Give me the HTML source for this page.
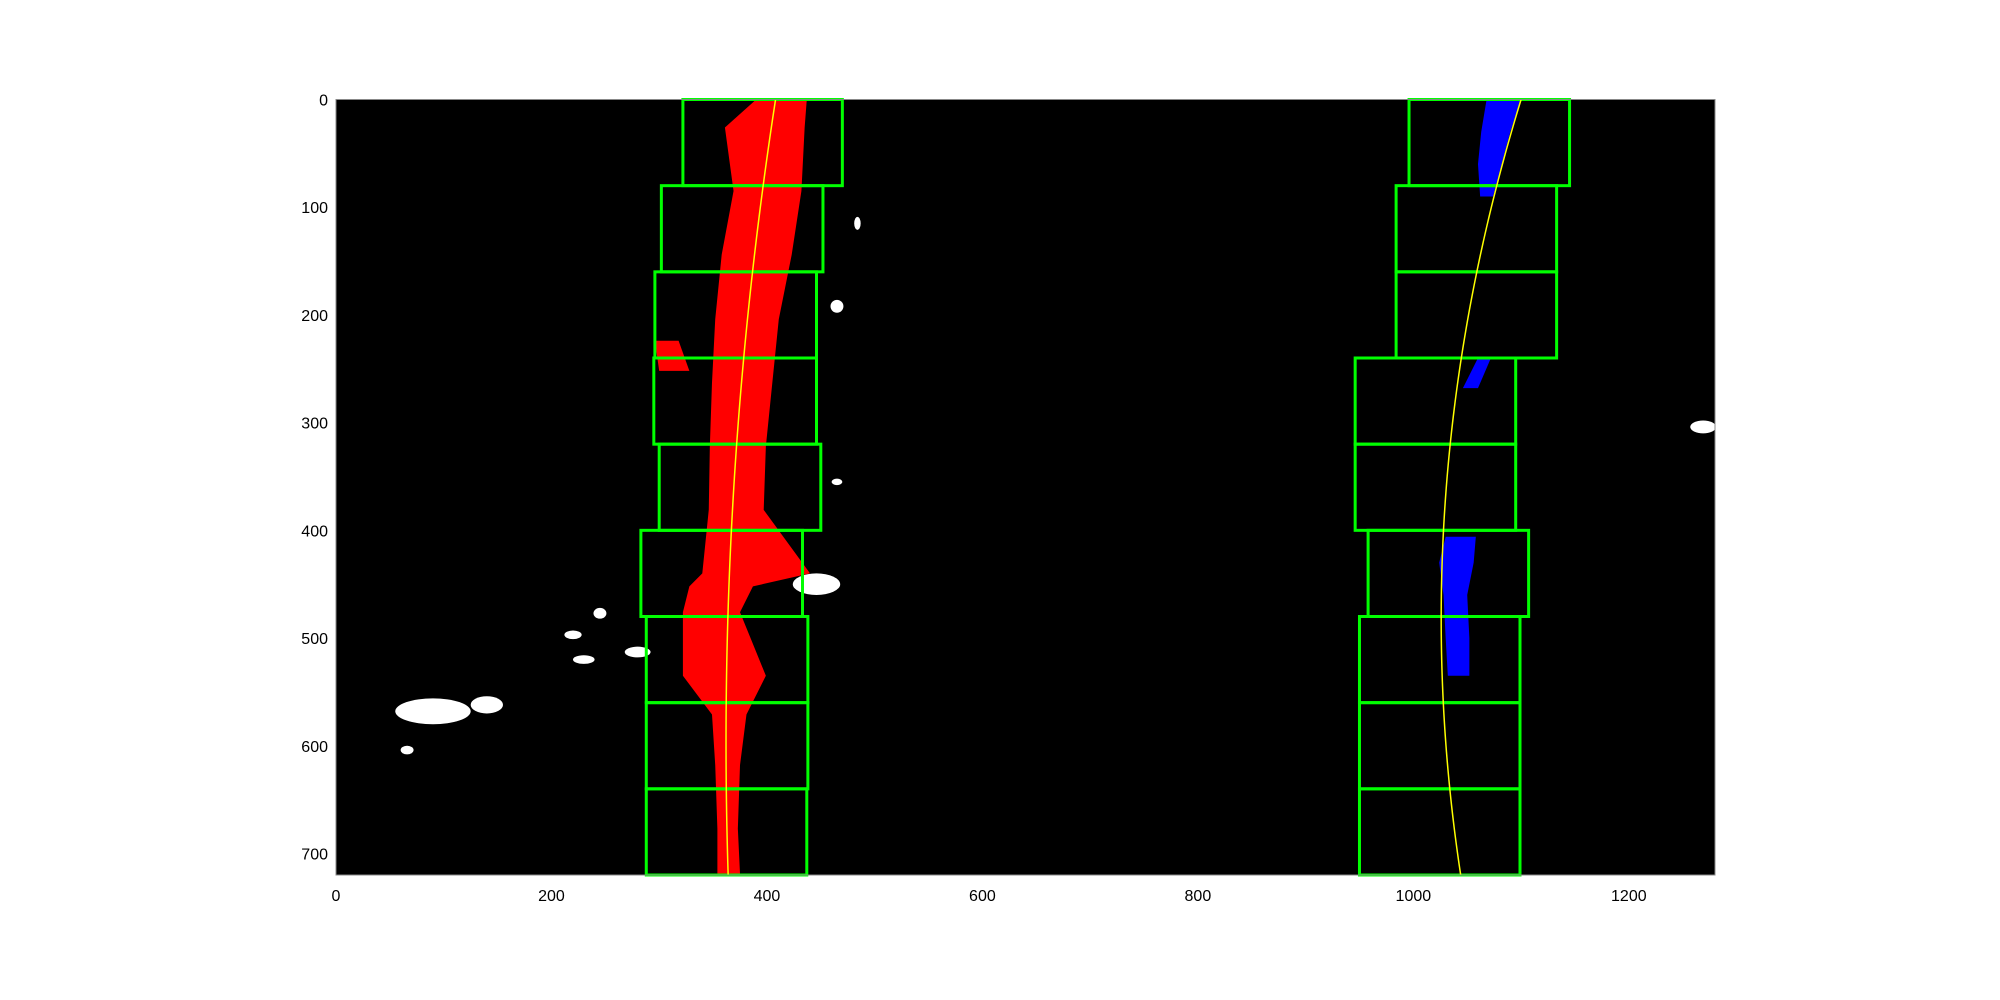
<!DOCTYPE html>
<html><head><meta charset="utf-8"><style>
html,body{margin:0;padding:0;background:#fff;width:2000px;height:1000px;overflow:hidden}
svg{display:block}
text{font-family:"Liberation Sans","DejaVu Sans",sans-serif;font-size:16px;fill:#000}
</style></head><body>
<svg id="chart" width="2000" height="1000" viewBox="0 0 2000 1000" xmlns="http://www.w3.org/2000/svg"></svg>
<script>
const xTicks=[0,200,400,600,800,1000,1200];
const yTicks=[0,100,200,300,400,500,600,700];
const winY=[0,80,160,240,320,400,480,560,640];
const leftWinLo=[322,302,296,295,300,283,288,288,288];
const leftWinHi=[470,452,446,446,450,433,438,438,437];
const rightWinLo=[996,984,984,946,946,958,950,950,950];
const rightWinHi=[1145,1133,1133,1095,1095,1107,1099,1099,1099];
const leftFit=[1.293e-4,-0.1542,408];
const rightFit=[3.194e-4,-0.3078,1100];
const redY=[0,26,85,144,204,263,322,381,440,452,476,535,571,618,677,719];
const redL=[390,361,369,358,352,349,347,346,340,328,322,322,349,352,354,354];
const redR=[437,435,432,423,411,405,399,397,440,387,375,399,381,375,373,375];
const blueY=[0,30,60,90];
const blueL=[1068,1063,1060,1062];
const blueR=[1100,1090,1082,1074];
const blue2Y=[406,430,460,500,535];
const blue2L=[1030,1024,1028,1030,1032];
const blue2R=[1058,1056,1050,1052,1052];
const whiteX=[90,140,230,280,446,465,66,484,245,220,465,1269];
const whiteY=[568,562,520,513,450,192,604,115,477,497,355,304];
const whiteRX=[35,15,10,12,22,6,6,3,6,8,5,12];
const whiteRY=[12,8,4,5,10,6,4,6,5,4,3,6];

const L=336,T=99.5,R=1715,B=875,W=1280,H=720;
const sx=v=>L+v*(R-L)/W, sy=v=>T+v*(B-T)/H;
const svg=document.getElementById('chart');
const NS='http://www.w3.org/2000/svg';
function mk(tag,at){const e=document.createElementNS(NS,tag);for(const k in at)e.setAttribute(k,at[k]);svg.appendChild(e);return e;}

let e=mk('rect',{x:L,y:T,width:R-L,height:B-T,fill:'#000'});



for(let i=0;i<whiteX.length;i++){
 e=mk('ellipse',{cx:sx(whiteX[i]),cy:sy(whiteY[i]),rx:whiteRX[i]*(R-L)/W,ry:whiteRY[i]*(B-T)/H,fill:'#fff'});
 
 
}
function blob(ys,ls,rs,color,name){
 const pts=[];for(let i=0;i<ys.length;i++)pts.push(sx(ls[i])+','+sy(ys[i]));
 for(let i=ys.length-1;i>=0;i--)pts.push(sx(rs[i])+','+sy(ys[i]));
 const p=mk('polygon',{points:pts.join(' '),fill:color});
 
 
}
blob(redY,redL,redR,'#ff0000','left-lane-pixels');
blob(blueY,blueL,blueR,'#0000ff','right-lane-pixels-top');
blob(blue2Y,blue2L,blue2R,'#0000ff','right-lane-pixels-bottom');
e=mk('polygon',{points:[[296,224],[318,224],[328,252],[300,252]].map(p=>sx(p[0])+','+sy(p[1])).join(' '),fill:'#ff0000'});


e=mk('polygon',{points:[[1060,240],[1072,240],[1060,268],[1046,268]].map(p=>sx(p[0])+','+sy(p[1])).join(' '),fill:'#0000ff'});



function wins(lo,hi,name){
 for(let i=0;i<winY.length;i++){
  const r=mk('rect',{x:sx(lo[i]),y:sy(winY[i]),width:sx(hi[i])-sx(lo[i]),height:sy(winY[i]+80)-sy(winY[i]),fill:'none',stroke:'#00ff00','stroke-width':3});
  
  
 }
}
wins(leftWinLo,leftWinHi,'left-search-window');
wins(rightWinLo,rightWinHi,'right-search-window');

function fit(c,name){
 const pts=[];for(let y=0;y<=720;y+=5)pts.push(sx(c[0]*y*y+c[1]*y+c[2])+','+sy(y));
 const p=mk('polyline',{points:pts.join(' '),fill:'none',stroke:'#ffff00','stroke-width':1.5});
 
 
}
fit(leftFit,'left-lane-fit');
fit(rightFit,'right-lane-fit');

e=mk('rect',{x:L,y:T,width:R-L,height:B-T,fill:'none',stroke:'#888','stroke-width':1});



xTicks.forEach(v=>{
 const t=mk('text',{x:sx(v),y:B+26,'text-anchor':'middle'});t.textContent=v;
 
 
});
yTicks.forEach(v=>{
 const t=mk('text',{x:L-8,y:sy(v)+6,'text-anchor':'end'});t.textContent=v;
 
 
});
</script>
</body></html>
